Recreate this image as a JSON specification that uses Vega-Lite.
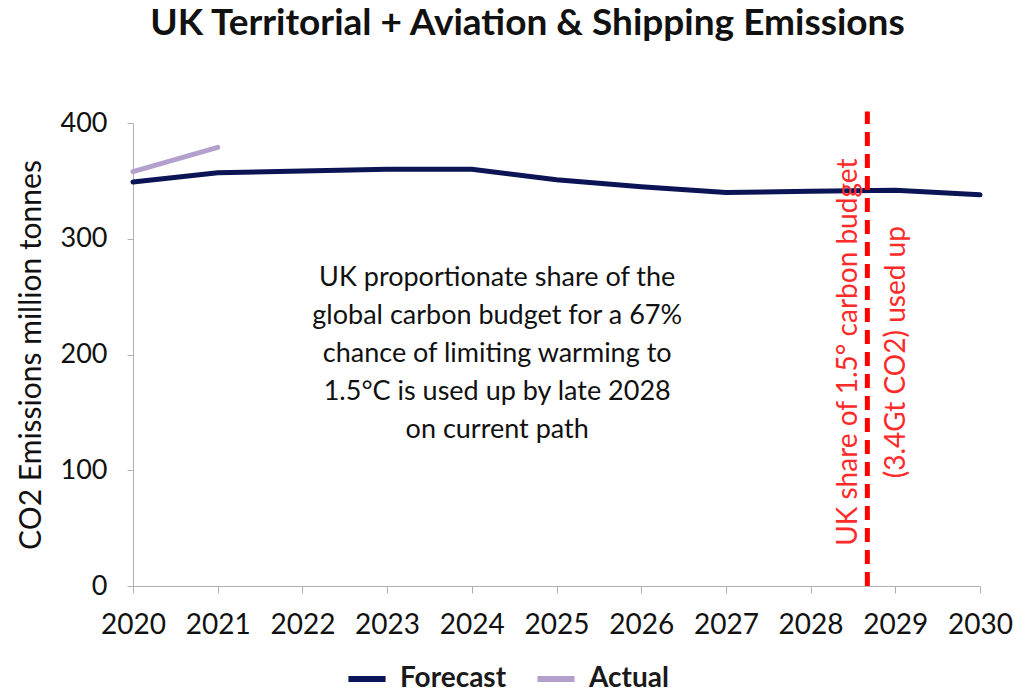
{
  "$schema": "https://vega.github.io/schema/vega-lite/v6.json",
  "width": 847,
  "height": 463,
  "autosize": {"type": "none"},
  "padding": {"left": 133, "top": 123, "right": 34, "bottom": 107},
  "background": "white",
  "config": {
    "view": {"stroke": null},
    "font": "Lato",
    "axis": {"grid": false, "domainColor": "#b0b0b0", "tickColor": "#b0b0b0", "labelFont": "Lato", "labelFontSize": 27, "labelColor": "#111", "titleFont": "Lato"}
  },
  "title": {
    "text": "UK Territorial + Aviation & Shipping Emissions",
    "font": "Lato",
    "fontSize": 37,
    "fontWeight": "bold",
    "color": "#111",
    "offset": 66,
    "dx": -29
  },
  "datasets": {
    "series": [
      {"year": 2020, "value": 349, "series": "Forecast"},
      {"year": 2021, "value": 357, "series": "Forecast"},
      {"year": 2022, "value": 358.5, "series": "Forecast"},
      {"year": 2023, "value": 360, "series": "Forecast"},
      {"year": 2024, "value": 360, "series": "Forecast"},
      {"year": 2025, "value": 351, "series": "Forecast"},
      {"year": 2026, "value": 345, "series": "Forecast"},
      {"year": 2027, "value": 340, "series": "Forecast"},
      {"year": 2028, "value": 341, "series": "Forecast"},
      {"year": 2029, "value": 342, "series": "Forecast"},
      {"year": 2030, "value": 338, "series": "Forecast"},
      {"year": 2020, "value": 358, "series": "Actual"},
      {"year": 2021, "value": 379, "series": "Actual"}
    ]
  },
  "layer": [
    {
      "data": {"name": "series"},
      "mark": {"type": "line", "strokeWidth": 5, "strokeCap": "round", "clip": false},
      "encoding": {
        "x": {
          "field": "year", "type": "quantitative",
          "scale": {"domain": [2020, 2030], "nice": false, "zero": false},
          "axis": {"title": null, "format": "d", "values": [2020,2021,2022,2023,2024,2025,2026,2027,2028,2029,2030], "tickSize": 7, "labelPadding": 18, "labelFontSize": 28, "labelFlush": false, "labelOverlap": false, "labelColor": "#111"}
        },
        "y": {
          "field": "value", "type": "quantitative",
          "scale": {"domain": [0, 400], "nice": false},
          "axis": {"title": "CO2 Emissions million tonnes", "titleFontSize": 30, "titleFontWeight": "normal", "titleColor": "#111", "values": [0,100,200,300,400], "tickSize": 6, "labelPadding": 20, "titlePadding": 14}
        },
        "color": {
          "field": "series", "type": "nominal",
          "scale": {"domain": ["Forecast", "Actual"], "range": ["#0b1455", "#b3a0cc"]},
          "legend": {
            "title": null, "orient": "none", "direction": "horizontal",
            "legendX": 212, "legendY": 534,
            "symbolType": "stroke", "symbolStrokeWidth": 6, "symbolSize": 1380,
            "labelFont": "Lato", "labelFontSize": 28, "labelFontWeight": "bold", "labelColor": "#1a1a1a",
            "columnPadding": 18, "labelOffset": 11
          }
        },
        "order": {"field": "year", "type": "quantitative"}
      }
    },
    {
      "data": {"values": [{"x": 2028.67, "y0": 0, "y1": 410}]},
      "mark": {"type": "rule", "color": "#ff0000", "strokeWidth": 5, "strokeDash": [14, 8], "clip": false},
      "encoding": {
        "x": {"field": "x", "type": "quantitative"},
        "y": {"field": "y0", "type": "quantitative"},
        "y2": {"field": "y1"}
      }
    },
    {
      "data": {"values": [{"x": 2028.45, "y": 202, "label": ["UK share of 1.5° carbon budget", "(3.4Gt CO2) used up"]}]},
      "mark": {"type": "text", "angle": 270, "align": "center", "baseline": "middle", "font": "Lato", "fontSize": 28, "color": "#ff2a2a", "lineHeight": 48},
      "encoding": {
        "x": {"field": "x", "type": "quantitative"},
        "y": {"field": "y", "type": "quantitative"},
        "text": {"field": "label"}
      }
    },
    {
      "data": {"values": [{"x": 2024.3, "y": 266, "label": ["UK proportionate share of the", "global carbon budget for a 67%", "chance of limiting warming to", "1.5°C is used up by late 2028", "on current path"]}]},
      "mark": {"type": "text", "align": "center", "baseline": "middle", "font": "Lato", "fontSize": 27, "color": "#111", "lineHeight": 38},
      "encoding": {
        "x": {"field": "x", "type": "quantitative"},
        "y": {"field": "y", "type": "quantitative"},
        "text": {"field": "label"}
      }
    }
  ]
}
